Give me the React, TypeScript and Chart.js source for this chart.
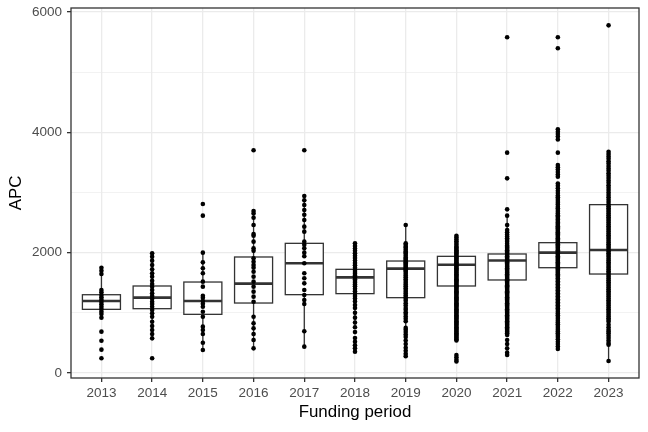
import React, { useEffect, useRef } from "react";
import { Chart, registerables } from "chart.js";
Chart.register(...registerables);

const years = ["2013", "2014", "2015", "2016", "2017", "2018", "2019", "2020", "2021", "2022", "2023"];
const yMajorTicks = [0, 2000, 4000, 6000];
const yMinorTicks = [1000, 3000, 5000];
const q1 = [1058, 1069, 975, 1163, 1302, 1319, 1252, 1446, 1546, 1750, 1645];
const median = [1197, 1252, 1197, 1485, 1823, 1590, 1734, 1800, 1870, 2000, 2044];
const q3 = [1301, 1446, 1512, 1928, 2155, 1723, 1861, 1939, 1978, 2166, 2798];
const whiskerLow = [920, 576, 382, 410, 438, 760, 370, 720, 900, 1140, 200];
const whiskerHigh = [1645, 1989, 2000, 2692, 2942, 2155, 2460, 2282, 2615, 2765, 3678];

const apc2013 = [1750, 1700, 1645, 1380, 1340, 1296, 1260, 1219, 1180, 1141, 1100, 1064, 1020, 980, 920, 687, 537, 388, 244];
const apc2014 = [1989, 1934, 1867, 1795, 1723, 1657, 1601, 1534, 1479, 1435, 1380, 1324, 1280, 1235, 1185, 1147, 1102, 1047, 992, 936, 853, 781, 715, 648, 576, 244];
const apc2015 = [2809, 2615, 2000, 1839, 1740, 1657, 1518, 1435, 1285, 1250, 1197, 1150, 1102, 1019, 936, 770, 715, 648, 504, 382];
const apc2016 = [3701, 2692, 2650, 2581, 2460, 2310, 2280, 2183, 2072, 2030, 1906, 1850, 1795, 1750, 1684, 1601, 1518, 1435, 1352, 1269, 1185, 936, 825, 742, 648, 548, 410];
const apc2017 = [3701, 2942, 2870, 2792, 2709, 2630, 2543, 2432, 2349, 2183, 2130, 2072, 2000, 1940, 1823, 1657, 1574, 1490, 1380, 1296, 1213, 1147, 693, 438];
const apc2018 = [2155, 2110, 2070, 2030, 1990, 1950, 1910, 1870, 1830, 1790, 1750, 1710, 1680, 1650, 1620, 1590, 1560, 1530, 1500, 1470, 1440, 1400, 1360, 1320, 1280, 1240, 1190, 1130, 1080, 1000, 920, 840, 760, 680, 580, 520, 460, 410, 355];
const apc2019 = [2460, 2155, 2130, 2100, 2080, 2050, 2020, 2000, 1980, 1950, 1920, 1900, 1880, 1860, 1840, 1820, 1800, 1780, 1760, 1740, 1720, 1700, 1680, 1650, 1620, 1590, 1560, 1530, 1500, 1470, 1440, 1410, 1380, 1350, 1320, 1290, 1260, 1230, 1200, 1160, 1120, 1080, 1050, 1010, 980, 940, 900, 860, 750, 720, 680, 640, 600, 540, 480, 420, 370, 320, 280];
const apc2020 = [2282, 2250, 2220, 2190, 2160, 2130, 2100, 2080, 2060, 2040, 2020, 2000, 1980, 1960, 1940, 1920, 1900, 1880, 1860, 1840, 1820, 1800, 1780, 1760, 1740, 1720, 1700, 1680, 1660, 1640, 1620, 1600, 1580, 1560, 1540, 1520, 1500, 1480, 1460, 1440, 1420, 1400, 1380, 1360, 1340, 1320, 1300, 1280, 1260, 1240, 1220, 1200, 1180, 1160, 1140, 1120, 1100, 1080, 1060, 1040, 1020, 1000, 980, 960, 940, 920, 900, 880, 860, 840, 820, 800, 780, 760, 740, 720, 700, 680, 660, 640, 620, 600, 580, 560, 540, 300, 260, 220, 190];
const apc2021 = [5579, 3662, 3235, 2720, 2615, 2460, 2377, 2340, 2300, 2270, 2240, 2210, 2180, 2150, 2120, 2100, 2080, 2060, 2040, 2020, 2000, 1980, 1960, 1940, 1920, 1900, 1880, 1860, 1840, 1820, 1800, 1780, 1760, 1740, 1720, 1700, 1680, 1660, 1640, 1620, 1600, 1580, 1560, 1540, 1520, 1500, 1480, 1460, 1440, 1420, 1400, 1380, 1360, 1340, 1320, 1300, 1280, 1260, 1240, 1220, 1200, 1180, 1160, 1140, 1120, 1100, 1080, 1060, 1040, 1020, 1000, 980, 960, 940, 920, 900, 880, 860, 840, 820, 800, 780, 760, 740, 720, 700, 680, 660, 632, 548, 482, 410, 338, 300];
const apc2022 = [5579, 5396, 4050, 4010, 3970, 3930, 3880, 3662, 3457, 3420, 3380, 3340, 3300, 3263, 3150, 3110, 3070, 3030, 2990, 2950, 2920, 2890, 2860, 2830, 2800, 2765, 2740, 2710, 2680, 2650, 2620, 2600, 2575, 2550, 2525, 2500, 2480, 2460, 2440, 2420, 2400, 2380, 2360, 2340, 2320, 2300, 2280, 2260, 2240, 2220, 2200, 2180, 2160, 2140, 2120, 2100, 2080, 2060, 2040, 2020, 2000, 1980, 1960, 1940, 1920, 1900, 1880, 1860, 1840, 1820, 1800, 1780, 1760, 1740, 1720, 1700, 1680, 1660, 1640, 1620, 1600, 1575, 1550, 1525, 1500, 1475, 1450, 1425, 1400, 1375, 1350, 1325, 1300, 1275, 1250, 1225, 1200, 1175, 1150, 1125, 1100, 1075, 1050, 1020, 990, 960, 930, 900, 870, 840, 810, 780, 750, 720, 690, 660, 630, 600, 560, 520, 480, 440, 400];
const apc2023 = [5778, 3678, 3640, 3600, 3560, 3520, 3480, 3440, 3400, 3360, 3320, 3280, 3240, 3200, 3160, 3120, 3080, 3040, 3000, 2960, 2920, 2880, 2840, 2800, 2770, 2740, 2710, 2680, 2650, 2620, 2590, 2560, 2530, 2500, 2470, 2440, 2410, 2380, 2350, 2320, 2290, 2260, 2230, 2200, 2170, 2140, 2110, 2080, 2050, 2020, 1990, 1960, 1930, 1900, 1870, 1840, 1810, 1780, 1750, 1720, 1690, 1660, 1630, 1600, 1570, 1540, 1510, 1480, 1450, 1420, 1390, 1360, 1330, 1300, 1270, 1240, 1210, 1180, 1150, 1120, 1090, 1060, 1030, 1000, 970, 940, 910, 880, 850, 800, 760, 720, 690, 660, 620, 580, 540, 500, 470, 200];

const apcByYear = [apc2013, apc2014, apc2015, apc2016, apc2017, apc2018, apc2019, apc2020, apc2021, apc2022, apc2023];

const FONT = "'Liberation Sans', Arial, Helvetica, sans-serif";

const isMajor = (v: number) => yMajorTicks.indexOf(Math.round(v)) >= 0;

const boxPlugin = {
  id: "ggBoxes",
  beforeDatasetsDraw(chart: any) {
    const { ctx, scales } = chart;
    const x = scales.x;
    const y = scales.y;
    ctx.save();
    ctx.strokeStyle = "#333333";
    for (let i = 0; i < years.length; i++) {
      const cx = x.getPixelForValue(i);
      const l = x.getPixelForValue(i - 0.375);
      const r = x.getPixelForValue(i + 0.375);
      const yq1 = y.getPixelForValue(q1[i]);
      const yq3 = y.getPixelForValue(q3[i]);
      const ym = y.getPixelForValue(median[i]);
      const ylo = y.getPixelForValue(whiskerLow[i]);
      const yhi = y.getPixelForValue(whiskerHigh[i]);
      ctx.lineWidth = 1.3;
      ctx.beginPath();
      ctx.moveTo(cx, yhi);
      ctx.lineTo(cx, yq3);
      ctx.moveTo(cx, yq1);
      ctx.lineTo(cx, ylo);
      ctx.stroke();
      ctx.fillStyle = "#ffffff";
      ctx.fillRect(l, yq3, r - l, yq1 - yq3);
      ctx.strokeRect(l, yq3, r - l, yq1 - yq3);
      ctx.lineWidth = 2.6;
      ctx.beginPath();
      ctx.moveTo(l, ym);
      ctx.lineTo(r, ym);
      ctx.stroke();
    }
    ctx.restore();
  },
  afterDraw(chart: any) {
    const { ctx, chartArea } = chart;
    ctx.save();
    ctx.strokeStyle = "#333333";
    ctx.lineWidth = 1.3;
    ctx.strokeRect(chartArea.left, chartArea.top, chartArea.right - chartArea.left, chartArea.bottom - chartArea.top);
    ctx.restore();
  },
};

export default function App() {
  const ref = useRef<HTMLCanvasElement | null>(null);
  useEffect(() => {
    if (!ref.current) return;
    const points = apcByYear.flatMap((arr, i) => arr.map((v) => ({ x: i, y: v })));
    const chart = new Chart(ref.current, {
      type: "scatter",
      data: {
        datasets: [
          {
            data: points,
            pointRadius: 2.3,
            pointHoverRadius: 2.3,
            pointBackgroundColor: "#000000",
            pointBorderWidth: 0,
          },
        ],
      },
      options: {
        animation: false,
        responsive: false,
        devicePixelRatio: 1,
        layout: { padding: { top: 8, right: 9, left: 0, bottom: 0 } },
        plugins: { legend: { display: false }, tooltip: { enabled: false } },
        scales: {
          x: {
            type: "linear",
            min: -0.6,
            max: 10.6,
            afterBuildTicks: (s: any) => {
              s.ticks = years.map((_, i) => ({ value: i }));
            },
            afterFit: (s: any) => {
              s.height = 54;
            },
            border: { display: false },
            grid: { color: "#EBEBEB", lineWidth: 1.3, tickColor: "#333333", tickLength: 4 },
            ticks: {
              autoSkip: false,
              maxRotation: 0,
              padding: 3,
              color: "#4D4D4D",
              font: { family: FONT, size: 13.5 },
              callback: (v: any) => years[Math.round(Number(v))] ?? "",
            },
            title: {
              display: true,
              text: "Funding period",
              color: "#000000",
              font: { family: FONT, size: 16.9 },
              padding: { top: 0, bottom: 10 },
            },
          },
          y: {
            type: "linear",
            min: -83,
            max: 6066,
            afterBuildTicks: (s: any) => {
              s.ticks = [...yMajorTicks, ...yMinorTicks].sort((a, b) => a - b).map((v) => ({ value: v }));
            },
            afterFit: (s: any) => {
              s.width = 71;
              s.paddingTop = 0;
              s.paddingBottom = 0;
            },
            border: { display: false },
            grid: {
              color: "#EBEBEB",
              lineWidth: (c: any) => (c.tick && isMajor(c.tick.value) ? 1.3 : 0.65),
              tickColor: (c: any) => (c.tick && isMajor(c.tick.value) ? "#333333" : "rgba(0,0,0,0)"),
              tickLength: 4,
            },
            ticks: {
              autoSkip: false,
              padding: 5,
              color: "#4D4D4D",
              font: { family: FONT, size: 13.5 },
              callback: (v: any) => (isMajor(Number(v)) ? String(Math.round(Number(v))) : ""),
            },
            title: {
              display: true,
              text: "APC",
              color: "#000000",
              font: { family: FONT, size: 16.9 },
              padding: { top: 6.4, bottom: 0 },
            },
          },
        },
      },
      plugins: [boxPlugin],
    } as any);
    return () => chart.destroy();
  }, []);
  return (
    <div style={{ position: "fixed", left: 0, top: 0, width: 648, height: 432, background: "#ffffff" }}>
      <canvas ref={ref} width={648} height={432} style={{ width: 648, height: 432, display: "block" }} />
    </div>
  );
}
